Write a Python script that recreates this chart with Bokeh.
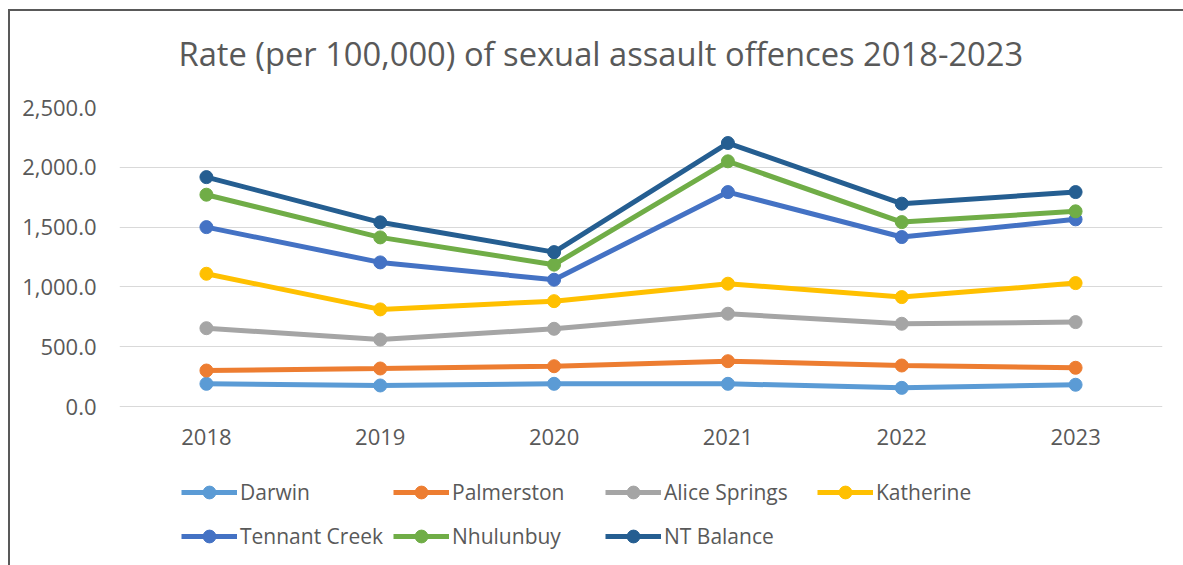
from bokeh.plotting import figure
from bokeh.models import (FactorRange, Range1d, NumeralTickFormatter, Legend, LegendItem,
                          FixedTicker, Title, InlineStyleSheet)
from bokeh.embed import file_html
from bokeh.resources import INLINE

years = ["2018", "2019", "2020", "2021", "2022", "2023"]
darwin = [190, 176, 190, 190, 156, 182]
palmerston = [301, 318, 337, 379, 343, 324]
alice_springs = [655, 560, 650, 776, 692, 706]
katherine = [1110, 812, 881, 1027, 915, 1032]
tennant_creek = [1500, 1205, 1060, 1793, 1417, 1565]
nhulunbuy = [1771, 1414, 1186, 2050, 1542, 1632]
nt_balance = [1918, 1540, 1291, 2203, 1696, 1793]
y_ticks = [0, 500, 1000, 1500, 2000, 2500]

series = [
    ("Darwin", darwin, "#5B9BD5"),
    ("Palmerston", palmerston, "#ED7D31"),
    ("Alice Springs", alice_springs, "#A5A5A5"),
    ("Katherine", katherine, "#FFC000"),
    ("Tennant Creek", tennant_creek, "#4472C4"),
    ("Nhulunbuy", nhulunbuy, "#70AD47"),
    ("NT Balance", nt_balance, "#255E91"),
]

FONT = "Open Sans"
TXT = "#595959"

# frame spans the whole lower area so the legend can sit inside it, under the x axis
p = figure(width=1183, height=565, x_range=FactorRange(*years), y_range=Range1d(-1329, 2500),
           output_backend="svg", toolbar_location=None,
           min_border_left=119, min_border_right=21, min_border_top=107, min_border_bottom=0)
p.title = None
title = Title(text="Rate (per 100,000) of sexual assault offences 2018-2023", align="left",
              vertical_align="top",
              text_font=FONT, text_font_size="32.7px", text_font_style="normal",
              text_color=TXT, offset=59, standoff=60)
p.add_layout(title, "above")

p.outline_line_color = None
p.background_fill_color = "white"
p.border_fill_color = "white"

p.yaxis.ticker = FixedTicker(ticks=y_ticks)
p.yaxis.formatter = NumeralTickFormatter(format="0,0.0")
p.xaxis.fixed_location = 0
for ax in (p.xaxis[0], p.yaxis[0]):
    ax.axis_line_color = None
    ax.major_tick_line_color = None
    ax.minor_tick_line_color = None
    ax.major_label_text_font = FONT
    ax.major_label_text_font_size = "22px"
    ax.major_label_text_color = TXT
p.yaxis.major_label_standoff = 17
p.xaxis.major_label_standoff = 16
p.xgrid.grid_line_color = None
p.ygrid.grid_line_color = "#D9D9D9"
p.ygrid.grid_line_width = 1

items = []
for name, vals, color in series:
    r1 = p.line(years, vals, line_color=color, line_width=5)
    r2 = p.scatter(years, vals, size=13, fill_color=color, line_color=color)
    items.append(LegendItem(label=name, renderers=[r1, r2]))

legend = Legend(items=items, orientation="horizontal", ncols=4, location=(62, 9))
legend.label_text_font = FONT
legend.label_text_font_size = "21px"
legend.label_text_color = TXT
legend.glyph_width = 56
legend.glyph_height = 32
legend.label_height = 41
legend.label_width = 150
legend.label_standoff = 3
legend.spacing = 3
legend.padding = 0
legend.margin = 0
legend.border_line_color = None
legend.background_fill_alpha = 0
p.add_layout(legend, "center")

p.stylesheets = [InlineStyleSheet(css=""":host::after {
  content: ""; position: absolute; left: 8px; top: 9px; right: 0; bottom: 0;
  border-left: 2px solid #595959; border-top: 2px solid #595959; pointer-events: none;
}""")]

open("out.html", "w").write(file_html(p, INLINE))
